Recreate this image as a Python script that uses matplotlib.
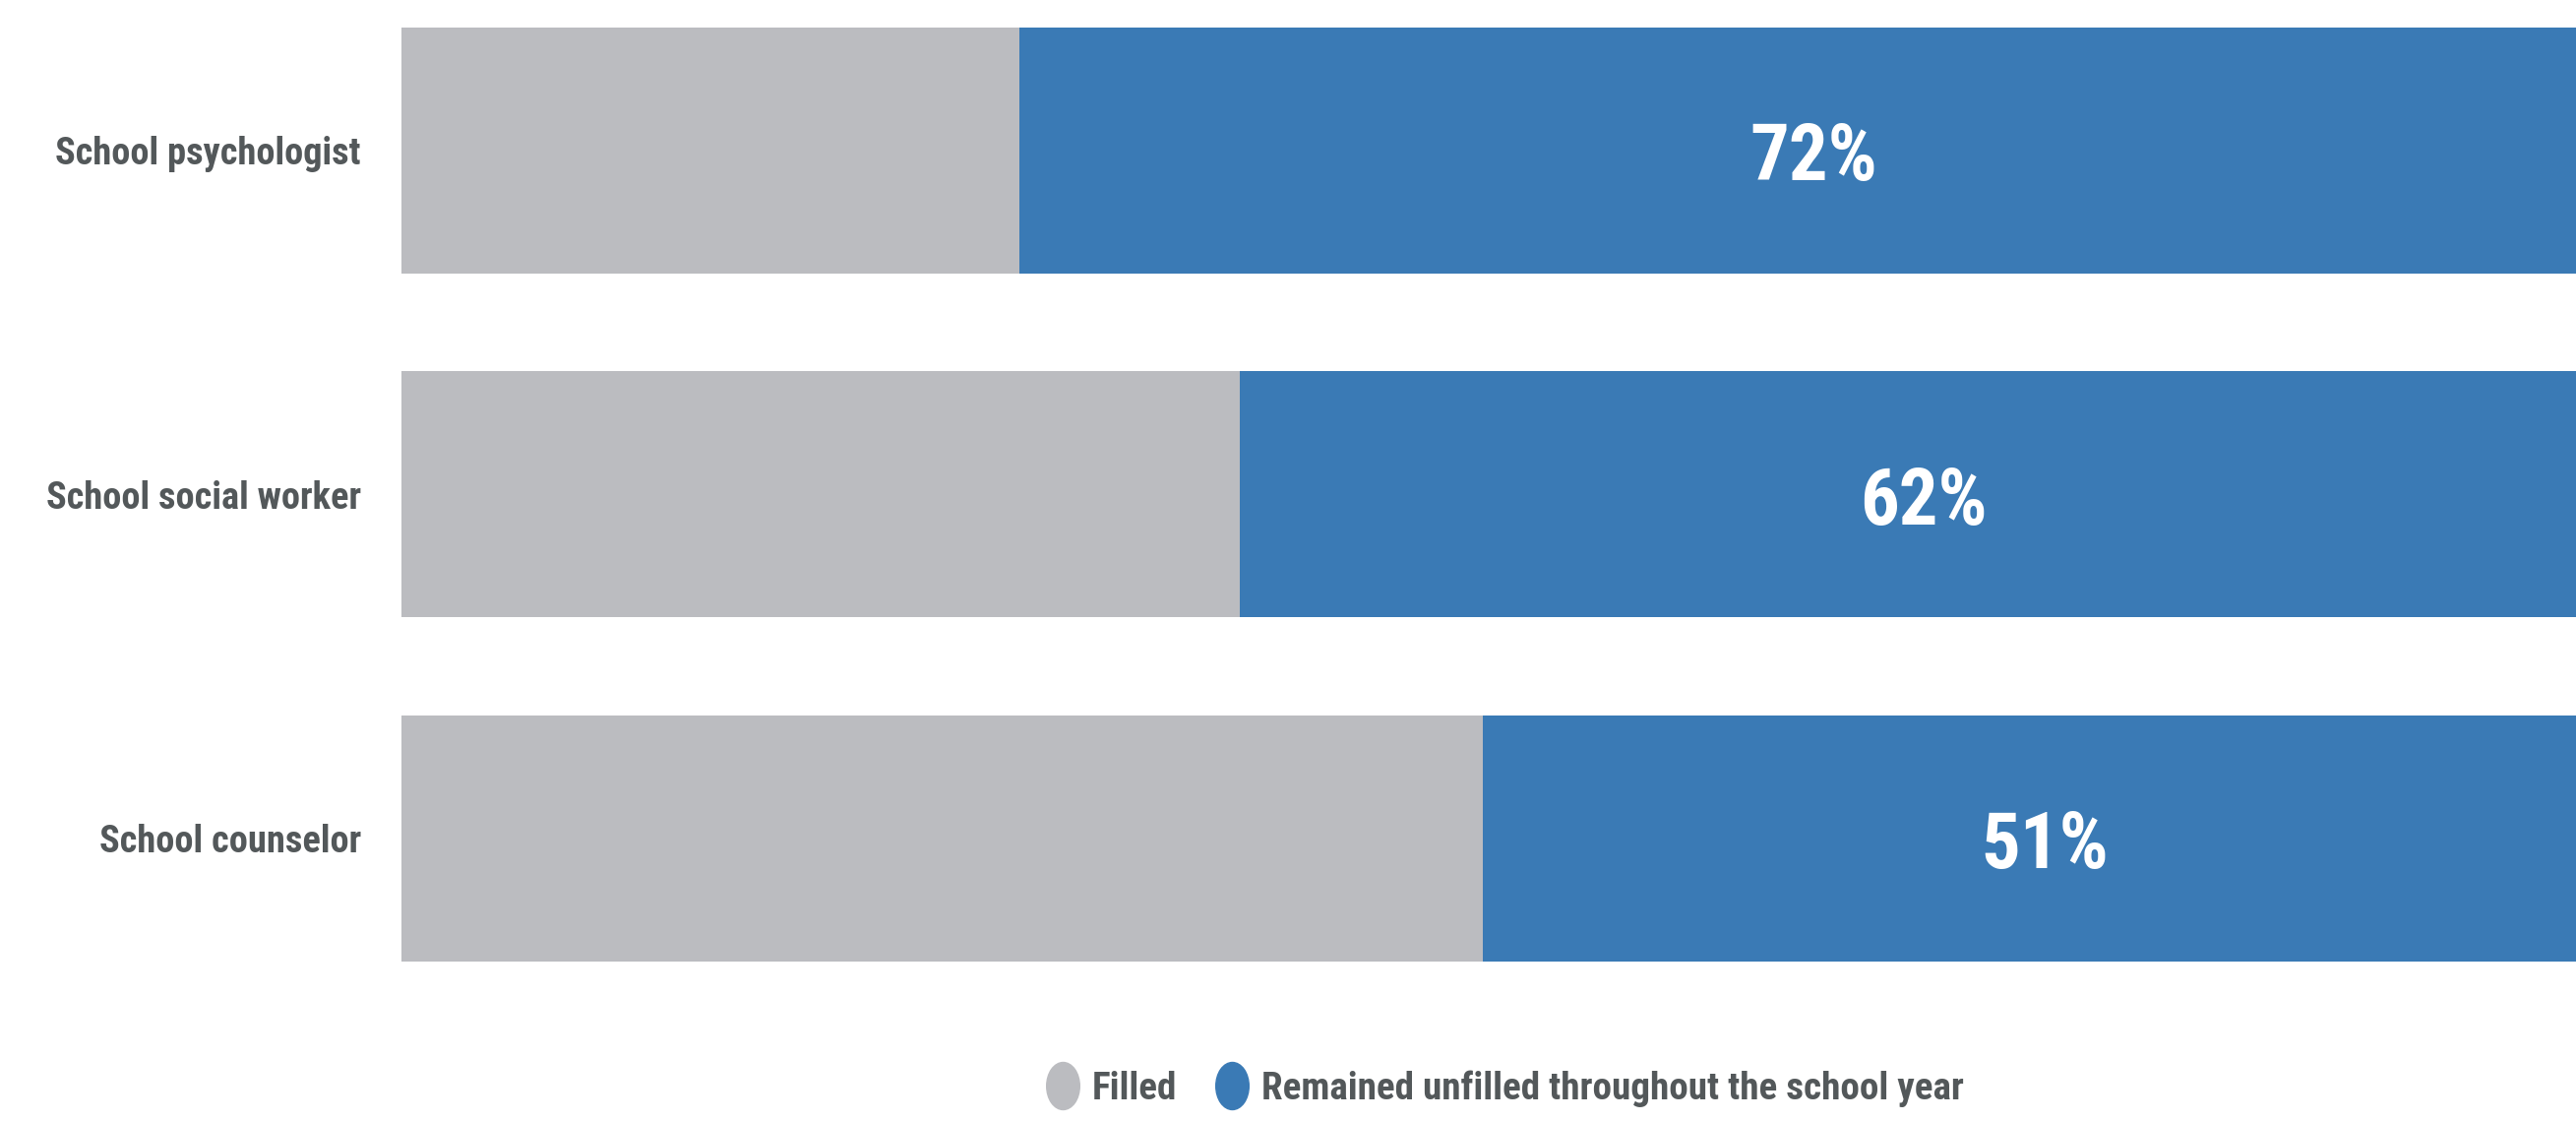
import matplotlib
matplotlib.use("Agg")
import matplotlib.pyplot as plt
from matplotlib import font_manager as fm
from matplotlib.path import Path
from matplotlib.transforms import Affine2D
from matplotlib.lines import Line2D
import numpy as np

# ---------------- data ----------------
categories = ["School psychologist", "School social worker", "School counselor"]
filled = [28, 38, 49]
unfilled = [72, 62, 51]
series_names = ["Filled", "Remained unfilled throughout the school year"]

# ---------------- style ----------------
GRAY = "#BBBCC0"
BLUE = "#3A7AB5"
TEXT = "#53585A"

# pick the narrowest available bold sans
names = {f.name for f in fm.fontManager.ttflist}
family, stretch = None, "normal"
for cand in ["Roboto Condensed", "Liberation Sans Narrow", "Open Sans Condensed", "Noto Sans Condensed"]:
    if cand in names:
        family = cand
        break
if family is None:
    if any(f.name == "DejaVu Sans" and str(f.stretch) in ("condensed", "semi-condensed") for f in fm.fontManager.ttflist):
        family, stretch = "DejaVu Sans", "condensed"
    elif "Roboto" in names:
        family = "Roboto"
    else:
        family = "DejaVu Sans"
FAM = [family, "DejaVu Sans"]

W, H, DPI = 2618, 1139, 100
fig = plt.figure(figsize=(W / DPI, H / DPI), dpi=DPI)
renderer = fig.canvas.get_renderer()
PX_PER_PT = DPI / 72.0


def text_width(s, size):
    t = fig.text(0, 0, s, fontsize=size, family=FAM, fontstretch=stretch, weight="bold")
    w = t.get_window_extent(renderer).width
    t.remove()
    return w


def fit_size(s, target_w, target_cap, mode="width"):
    w_ref = text_width(s, 30)
    size_w = 30 * target_w / w_ref
    size_h = target_cap / 0.72 / PX_PER_PT
    if mode == "width":
        return min(size_w, size_h)
    return min(np.sqrt(size_w * size_h), size_h)


label_size = fit_size("School social worker", 320, 43, "width")
pct_size = fit_size("72%", 105, 70, "mean")
leg_size = fit_size(series_names[1], 715, 42, "width")

# axes geometry (axis 0..100 maps to px 408..2650, rows at 153 + 349.5*i)
x0, x1 = 408, 2650
ax = fig.add_axes([x0 / W, 0, (x1 - x0) / W, 1])
row0, step = 153, 349.5
ax.set_ylim((H - row0) / step, -row0 / step)
ax.set_xlim(0, 100)

y = np.arange(len(categories))
bar_h = 250 / step
ax.barh(y, filled, height=bar_h, color=GRAY, edgecolor="none")
ax.barh(y, unfilled, left=filled, height=bar_h, color=BLUE, edgecolor="none")

for yi, f, u in zip(y, filled, unfilled):
    ax.text(f + u / 2, yi + 0.025, f"{u}%", ha="center", va="center",
            color="white", fontsize=pct_size, family=FAM, fontstretch=stretch, weight="bold")

ax.set_yticks(y)
ax.set_yticklabels(categories)
ax.tick_params(axis="y", length=0, pad=41 / PX_PER_PT, labelsize=label_size, labelcolor=TEXT)
for lab in ax.get_yticklabels():
    lab.set_family(FAM)
    lab.set_fontstretch(stretch)
    lab.set_weight("bold")
ax.set_xticks([])
for s in ax.spines.values():
    s.set_visible(False)

# legend with tall ellipse markers
ell = Path.unit_circle().transformed(Affine2D().scale(0.7, 1.0))
handles = [
    Line2D([], [], linestyle="none", marker=ell, markersize=48 / PX_PER_PT, color=GRAY),
    Line2D([], [], linestyle="none", marker=ell, markersize=48 / PX_PER_PT, color=BLUE),
]
leg = ax.legend(handles, series_names, loc="center", bbox_to_anchor=(0.5, 1 - 1106 / H),
                ncol=2, frameon=False, handlelength=0.9, handletextpad=0.3,
                columnspacing=1.0, borderaxespad=0,
                prop=fm.FontProperties(family=FAM, stretch=stretch, weight="bold", size=leg_size))
for t in leg.get_texts():
    t.set_color(TEXT)

fig.savefig("out.png", dpi=DPI, facecolor="white")
